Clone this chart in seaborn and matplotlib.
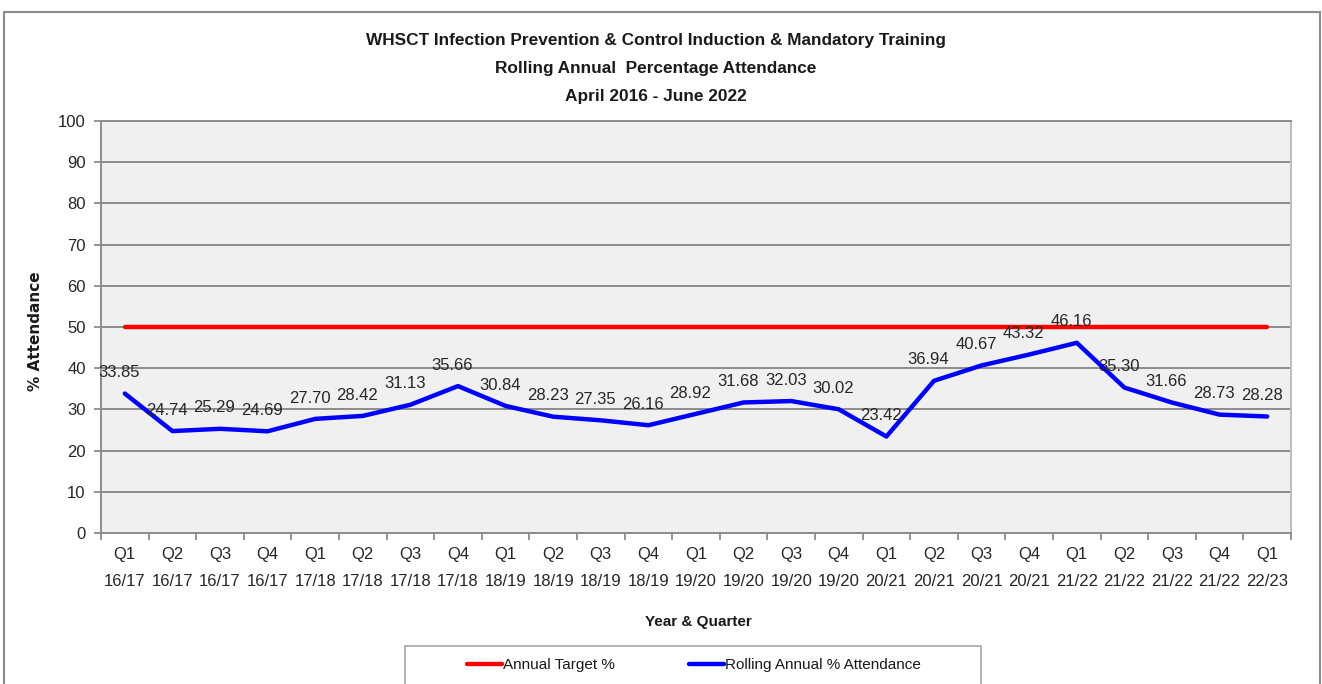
import matplotlib
matplotlib.use("Agg")
import matplotlib.pyplot as plt
import seaborn as sns
import pandas as pd
from matplotlib.patches import Rectangle
from matplotlib.ticker import FixedLocator

quarters = ["Q1\n16/17", "Q2\n16/17", "Q3\n16/17", "Q4\n16/17",
            "Q1\n17/18", "Q2\n17/18", "Q3\n17/18", "Q4\n17/18",
            "Q1\n18/19", "Q2\n18/19", "Q3\n18/19", "Q4\n18/19",
            "Q1\n19/20", "Q2\n19/20", "Q3\n19/20", "Q4\n19/20",
            "Q1\n20/21", "Q2\n20/21", "Q3\n20/21", "Q4\n20/21",
            "Q1\n21/22", "Q2\n21/22", "Q3\n21/22", "Q4\n21/22",
            "Q1\n22/23"]
rolling_attendance = [33.85, 24.74, 25.29, 24.69, 27.70, 28.42, 31.13, 35.66,
                      30.84, 28.23, 27.35, 26.16, 28.92, 31.68, 32.03, 30.02,
                      23.42, 36.94, 40.67, 43.32, 46.16, 35.30, 31.66, 28.73,
                      28.28]
annual_target = [50, 50, 50, 50, 50, 50, 50, 50, 50, 50, 50, 50, 50,
                 50, 50, 50, 50, 50, 50, 50, 50, 50, 50, 50, 50]
y_ticks = [0, 10, 20, 30, 40, 50, 60, 70, 80, 90, 100]

sns.set_style("white")
plt.rcParams['font.family'] = ['Liberation Sans', 'DejaVu Sans']

W, H = 1322, 684
fig = plt.figure(figsize=(W / 100, H / 100), dpi=100)
ax = fig.add_axes([101 / W, (H - 533) / H, (1291 - 101) / W, (533 - 121) / H])
ax.set_facecolor("#f0f0f0")

idx = list(range(len(quarters)))
df = pd.DataFrame({"idx": idx, "target": annual_target, "rolling": rolling_attendance})

sns.lineplot(data=df, x="idx", y="target", ax=ax, color="#ff0000", linewidth=3.2,
             label="Annual Target %", zorder=3)
sns.lineplot(data=df, x="idx", y="rolling", ax=ax, color="#0000ff", linewidth=3.2,
             label="Rolling Annual % Attendance", zorder=4)

for i, v in zip(idx, rolling_attendance):
    ax.annotate(f"{v:.2f}", (i, v), xytext=(-4, 15), textcoords="offset points",
                ha="center", va="center", fontsize=12, color="#262626", zorder=5)

ax.set_xlim(-0.5, len(quarters) - 0.5)
ax.set_ylim(0, 100)
ax.set_yticks(y_ticks)
ax.set_yticklabels([str(t) for t in y_ticks])
ax.set_xticks(idx)
ax.set_xticklabels(quarters, linespacing=2.0)
ax.xaxis.set_minor_locator(FixedLocator([i - 0.5 for i in range(len(quarters) + 1)]))
ax.tick_params(axis="x", which="major", length=0, pad=10, labelsize=12, labelcolor="#262626")
ax.tick_params(axis="x", which="minor", length=5, width=1.3, color="#8c8c8c", bottom=True)
ax.tick_params(axis="y", which="major", length=5, width=1.3, color="#8c8c8c", pad=6,
               labelsize=12, labelcolor="#262626", left=True)

ax.grid(axis="y", color="#8c8c8c", linewidth=1.4, zorder=1)
ax.grid(axis="x", visible=False)
ax.set_axisbelow(True)
for side in ["left", "bottom"]:
    ax.spines[side].set_color("#8c8c8c")
    ax.spines[side].set_linewidth(1.4)
ax.spines["top"].set_color("#8c8c8c")
ax.spines["top"].set_linewidth(1.4)
ax.spines["right"].set_color("#bdbdbd")
ax.spines["right"].set_linewidth(1.4)

ax.set_xlabel("")
ax.set_ylabel("")
fig.text(36 / W, 1 - 331 / H, "% Attendance", rotation=90, ha="center", va="center",
         fontsize=11, fontweight="bold", family="DejaVu Sans", color="#1a1a1a")
fig.text(698 / W, 1 - 622 / H, "Year & Quarter", ha="center", va="center",
         fontsize=11, fontweight="bold", color="#1a1a1a")

titles = ["WHSCT Infection Prevention & Control Induction & Mandatory Training",
          "Rolling Annual  Percentage Attendance",
          "April 2016 - June 2022"]
for k, t in enumerate(titles):
    fig.text(656 / W, 1 - (40 + 28.5 * k) / H, t, ha="center", va="center",
             fontsize=12.4, fontweight="bold", color="#1a1a1a")

# outer chart border
fig.patches.append(Rectangle((4 / W, -0.05), (1320 - 4) / W, 1.05 - 12 / H,
                             transform=fig.transFigure, fill=False,
                             edgecolor="#8c8c8c", linewidth=1.5))
# legend box
fig.patches.append(Rectangle((405 / W, -0.05), (981 - 405) / W, 0.05 + (H - 646) / H,
                             transform=fig.transFigure, fill=False,
                             edgecolor="#a6a6a6", linewidth=1.2))
if ax.legend_:
    ax.legend_.remove()
handles, labels = ax.get_legend_handles_labels()
fig.legend(handles, labels, loc="center", bbox_to_anchor=(694 / W, 1 - 665 / H),
           ncol=2, frameon=False, fontsize=11, handlelength=2.3,
           handletextpad=0.1, columnspacing=4.8, labelcolor="#1a1a1a")

fig.savefig("out.png", dpi=100)
